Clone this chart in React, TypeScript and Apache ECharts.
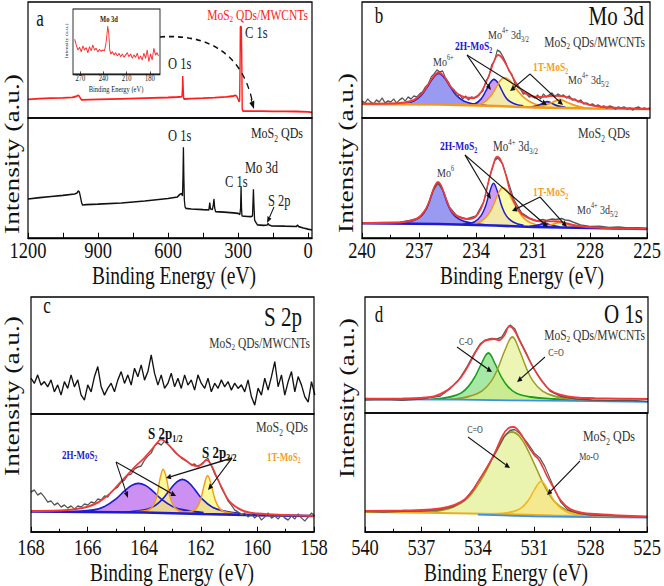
import React, { useEffect, useRef } from 'react';
import * as echarts from 'echarts';

const FONT = "'Liberation Serif', 'Times New Roman', serif";
const CW = 664;
const CH = 451;
const S = 586 / CH;
const Y = (py: number) => py / S;

// ---------------- data ----------------
const A_LABELS = [0, 300, 600, 900, 1200];
const A_TICKS = [0, 150, 300, 450, 600, 750, 900, 1050, 1200];
const INSET_LABELS = [180, 210, 240, 270];

const SURVEY_MWCNT = [[1200,18.7],[1150,19.3],[1100,19.8],[1050,20.2],[1010,20.6],[995,21.5],[985,22.7],[980,21.8],[975,19.5],[970,18.2],[900,18.6],[800,19.2],[700,19.8],[600,20.5],[560,21],[545,21.2],[540,21.5],[538,30],[537,42],[535,30],[533,20],[531,19],[500,19.4],[450,19.8],[400,20.4],[350,21.2],[320,22],[312,22.6],[306,22],[300,19],[296,16.3],[293,18],[291,60],[290,91.3],[286,91.3],[284,60],[282,9],[279,7],[250,6.8],[200,6.8],[150,6.7],[100,6.6],[50,6.5],[0,6.2],[-17,5.7]];
const SURVEY_QDS = [[1200,39],[1150,40.3],[1100,41.5],[1050,42.6],[1000,44],[990,45],[985,47],[980,46],[976,42],[970,35],[966,33],[950,33.3],[900,33.8],[800,35],[700,37],[600,39.5],[560,41],[550,43.5],[542,44.5],[538,42],[536,60],[534,90.7],[532,60],[530,38],[527,31],[523,29.7],[500,29],[450,28.3],[425,28],[421,35.3],[418,29],[410,28.5],[406,33],[403,39],[400,30],[396,26.3],[360,25.8],[320,25.2],[300,24.7],[292,23.5],[289,30],[287,51.3],[285,30],[283,22],[260,21.5],[245,21.3],[238,22],[236,35],[234,48.7],[232,35],[229,18],[222,15],[217,13.2],[190,12.7],[175,13],[171,14.5],[167,13],[157,12.2],[100,11.8],[50,11.5],[45,12.8],[40,11.4],[20,10],[0,8.9],[-17,8]];
const INSET_MO3D = [[277.3,34.7],[275.2,29],[273,24],[270.9,26.7],[268.8,22.3],[266.6,28],[264.5,24],[262.3,26.3],[260.2,21.3],[258.1,27.3],[255.9,23.3],[253.8,29],[251.6,24],[249.5,25.7],[247.3,22],[245.2,24.7],[243.1,22.7],[240.9,24],[238.8,23.3],[237.1,29],[235.8,37.3],[234.5,48],[233.2,40.7],[231.9,24],[230.6,20],[228.5,22.3],[226.4,19],[224.2,21.3],[222.1,18],[219.9,20.7],[217.8,17.3],[215.6,20],[213.5,16.7],[211.4,19],[209.2,21.3],[207.1,17.3],[204.9,20],[202.8,15.7],[200.7,19],[198.5,16.7],[196.4,20.7],[194.2,14.7],[192.1,18],[190,14],[187.8,20.7],[185.7,15.7],[183.5,24],[181.4,12.3],[179.2,20],[177.1,14],[175,25.7],[172.8,19],[170.7,21.3],[169,18]];

// panel b, top (MoS2 QDs/MWCNTs)
const B1_BASE = [[240,14],[236,13.5],[233,12],[231,10.5],[228,9.5],[225,9]];
const B1_MO6 = [[238.5,13.6],[237.8,14.5],[237.3,17],[236.9,23],[236.6,31],[236.3,40],[236.0,44.7],[235.7,40],[235.4,31],[235.1,23],[234.7,17],[234.2,14],[233.5,12.3]];
const B1_2H = [[234.6,12.5],[234.1,14.5],[233.8,19],[233.55,27],[233.35,34.5],[233.13,38.7],[232.9,34.5],[232.7,27],[232.45,19],[232.1,14.5],[231.6,12]];
const B1_1T = [[234.2,12.3],[233.7,15],[233.3,22],[233.0,31],[232.8,37.5],[232.6,40.3],[232.3,37.5],[232.0,30],[231.7,23],[231.4,18],[231.0,14],[230.5,11.5]];
const B1_2H_S = [[231.3,10.8],[230.9,12],[230.6,14.5],[230.35,16.3],[230.1,14.5],[229.8,12],[229.4,10.5]];
const B1_1T_S = [[231.0,10.5],[230.5,12.5],[230.1,15.5],[229.7,18.5],[229.3,15.5],[228.9,12.5],[228.4,10.2]];
const B1_FIT = [[240,14.3],[238.5,14.5],[237.8,15.5],[237.3,18],[236.9,24],[236.6,32],[236.3,41],[236.0,45.5],[235.7,41],[235.4,32],[235.0,24],[234.6,20.5],[234.2,20],[233.9,23],[233.6,33],[233.3,47],[233.1,58],[232.9,63],[232.7,60],[232.4,50],[232.0,36],[231.6,26],[231.2,22],[230.8,21],[230.4,21.5],[230.0,22.3],[229.6,22],[229.2,20],[228.6,16],[228.0,12.5],[227.3,10.7],[226,9.5],[225,9]];
const B1_RAW_START = 240;
const B1_RAW_STEP = 0.15;
const B1_RAW = [17,15,19,16,14,18,16,20,15,17,16,19,15,18,20,17,21,19,22,21,24,26,31,34,41,44,48,46,47,40,36,30,28,22,23,19,22,18,21,20,22,25,27,37,41,53,57,68,66,61,55,47,44,35,31,29,24,25,21,22,20,23,19,24,21,23,25,21,24,22,23,20,22,18,19,16,18,14,15,13,14,12,13,11,12,10,12,11,9,11,10,11,9,10,8,10,11,9,10,9,10];

// panel b, bottom (MoS2 QDs)
const B2_BASE = [[240,14.7],[236,14],[233,12.5],[231,11],[228,10],[225,9]];
const B2_MO6 = [[238.5,14.6],[237.6,16],[237.1,19],[236.75,25],[236.5,34],[236.3,45],[236.15,52],[236.0,55.3],[235.85,52],[235.7,45],[235.5,34],[235.25,25],[234.9,19],[234.4,15.5],[233.5,13]];
const B2_2H = [[234.7,13.5],[234.1,16],[233.75,22],[233.5,32],[233.3,45],[233.08,54.7],[232.85,45],[232.65,32],[232.4,22],[232.05,16],[231.5,12.5]];
const B2_1T = [[234.3,13.2],[233.7,17],[233.3,25],[233.0,37],[232.8,46],[232.6,50.3],[232.35,47],[232.1,38],[231.8,28],[231.5,20],[231.1,15],[230.5,12]];
const B2_2H_S = [[231.2,11.3],[230.8,12.5],[230.4,14.5],[230.0,12.5],[229.6,11]];
const B2_1T_S = [[230.6,11],[230.1,12.8],[229.6,15.5],[229.1,12.8],[228.6,10.5]];
const B2_FIT = [[240,15],[238.5,15.2],[237.6,16.5],[237.1,19.5],[236.75,26],[236.5,35],[236.3,46],[236.15,53],[236.0,56],[235.85,53],[235.7,46],[235.5,35],[235.25,26],[234.9,21],[234.5,19],[234.2,19.5],[233.9,24],[233.6,36],[233.35,56],[233.1,73],[232.9,81.3],[232.7,78],[232.45,64],[232.2,46],[231.9,32],[231.6,24],[231.3,20.5],[230.9,17.5],[230.4,16.5],[229.9,16.8],[229.6,16.5],[229.2,14.5],[228.6,12],[228.0,10.7],[226.5,9.5],[225,9.2]];
const B2_RAW = [[240,15],[239,15.6],[238,15.8],[237.5,17.5],[237,20],[236.6,29],[236.3,46],[236.0,55],[235.7,46],[235.4,31],[235,22],[234.5,19],[234,22],[233.6,36],[233.3,60],[233.0,78],[232.85,80],[232.6,74],[232.3,56],[232.0,38],[231.6,25],[231.2,20],[230.8,17],[230.5,18.5],[230.3,17.5],[230.0,19],[229.8,18.5],[229.5,19.5],[229.3,18],[229.1,17.5],[228.9,16],[228.5,13],[228,11.5],[227.5,11.8],[227,10.5],[226.5,11],[226,10],[225.5,10.3],[225,9.6]];

// panel c, top (MoS2 QDs/MWCNTs)
const C_RAW_START = 168;
const C_RAW_STEP = 0.118;
const C1_RAW = [35.7,30.7,39,29,32.3,27.3,34,22.3,29,19,32.3,25.7,39,27.3,34,19,14,29,22.3,37.3,47.3,27.3,19,25.7,30.7,22.3,34,42.3,30.7,39,29,45.7,37.3,49,34,42.3,59,40.7,29,39,25.7,30.7,40.7,27.3,35.7,25.7,39,29,34,24,39,30.7,25.7,35.7,22.3,30.7,25.7,34,27.3,32.3,24,30.7,25.7,29,22.3,34,17.3,9,25.7,19,35.7,24,37.3,52.3,27.3,39,19,32.3,42.3,22.3,37.3,29,17.3,12,32.3,19];

// panel c, bottom (MoS2 QDs)
const C2_BASE = [[168,20.5],[164,19.5],[162,18],[160,16.8],[158,16]];
const C2_2H_A = [[166.5,20.3],[165.8,22],[165.4,25.5],[165.0,33],[164.7,41],[164.45,46.5],[164.21,48.7],[163.95,46.5],[163.7,41],[163.4,33],[163.0,25.5],[162.6,22],[161.9,19.3]];
const C2_2H_B = [[164.7,19.8],[164.1,21.5],[163.7,25],[163.35,33],[163.1,42],[162.85,50],[162.65,52.7],[162.45,50],[162.2,42],[161.95,33],[161.6,25],[161.2,21],[160.6,18.5]];
const C2_1T_A = [[164.3,20],[163.9,21.5],[163.7,25.5],[163.55,36],[163.45,52],[163.33,62.7],[163.2,52],[163.1,36],[162.95,25.5],[162.75,21],[162.3,19.2]];
const C2_1T_B = [[162.8,18.9],[162.35,20.5],[162.15,24],[162.0,33],[161.88,47],[161.76,56.3],[161.63,47],[161.5,33],[161.35,24],[161.15,20],[160.7,17.8]];
const C2_FIT = [[168,21],[167,21.5],[166.5,22.5],[166.0,25.3],[165.6,30],[165.2,38.7],[164.9,48],[164.6,57],[164.3,66],[164.0,74],[163.75,82],[163.55,89],[163.4,92.7],[163.25,90],[163.0,83],[162.8,77],[162.55,72],[162.3,67],[162.1,66],[161.95,68],[161.8,72],[161.65,68],[161.45,56],[161.25,44],[161.0,31],[160.7,24],[160.4,20.3],[160,18.5],[159,17],[158,16]];
const C2_RAW = [40,42,37,39,35,30,31,27,29,25,27,24,26,23,26,25,28,27,30,29,33,32,36,35,40,43,45,50,52,57,58,63,65,66,72,76,79,86,89,87,91,88,84,80,77,74,72,70,67,68,65,68,71,74,66,58,52,44,38,31,27,22,20,17,19,15,18,14,17,12,15,19,14,16,13,17,14,12,16,13,18,14,11,15,19,16];

// panel d, top (MoS2 QDs/MWCNTs)
const D1_BASE = [[540,13.5],[535,13.3],[532,12.6],[529,12],[525,11.2]];
const D1_CO = [[536.5,13.6],[535.5,16],[534.9,20],[534.5,27],[534.15,37],[533.85,48.5],[533.46,60],[533.1,49],[532.8,37],[532.45,27],[532.0,20],[531.2,16],[530,14],[528,12.3]];
const D1_CDO = [[535.5,13.5],[534.5,16.5],[533.8,22],[533.3,32],[532.95,45],[532.6,62],[532.19,76],[531.8,62],[531.45,45],[531.1,32],[530.6,22],[529.9,16.5],[528.5,13],[527,11.8]];
const D1_FIT = [[540,14.3],[538,14.5],[536.5,16],[535.8,21],[535.3,28],[534.9,36],[534.5,48],[534.1,62],[533.75,71],[533.45,73.3],[533.15,74],[532.9,72.7],[532.6,78],[532.35,86.7],[532.1,83],[531.8,72],[531.4,57],[531.1,46],[530.7,34],[530.2,23],[529.6,18],[528.8,15.5],[527.8,14.8],[526.5,14.3],[525,14]];
const D1_RAW = [[540,13],[539,13.5],[538,12.8],[537,14],[536,17],[535.5,24],[535,34],[534.6,46],[534.2,60],[533.9,69],[533.6,73],[533.3,74.5],[533.0,74],[532.75,76],[532.5,84],[532.3,88],[532.05,84],[531.8,73],[531.4,58],[531.1,46],[530.7,34],[530.2,22],[529.6,16.5],[528.8,14],[528,13],[527,12.5],[526,12.8],[525,11.5]];

// panel d, bottom (MoS2 QDs)
const D2_BASE = [[540,20],[536,19],[533,18],[530,16.5],[527,15.5],[525,15]];
const D2_BLUE = [[534,17.3],[531,15.6],[528,14.8],[525,14.3]];
const D2_CDO = [[537.5,19.5],[536.2,21],[535.3,25],[534.6,33],[534.0,47],[533.5,63],[533.0,83],[532.6,96],[532.19,100],[531.8,96],[531.4,84],[530.9,64],[530.4,44],[529.9,30],[529.3,22],[528.5,18],[527,16]];
const D2_MOO = [[533.2,18],[532.2,20],[531.7,24],[531.3,32],[531.0,42],[530.63,50.7],[530.3,43],[530.0,33],[529.6,24],[529.1,19],[528.2,16.5]];
const D2_FIT = [[540,21],[538,21.5],[536.5,22.5],[535.6,25],[534.9,30],[534.4,38.3],[534.0,50],[533.6,62],[533.1,79],[532.7,96],[532.4,103.5],[532.1,105],[531.75,99],[531.4,88],[531.0,77],[530.8,73.3],[530.55,65],[530.3,55],[530.0,45],[529.6,31.7],[529.1,23],[528.4,19],[527.8,18],[526.5,16.5],[525,15.5]];
const D2_RAW = [[540,20.5],[539,20],[538,20.8],[537,21],[536,22.5],[535.3,25.5],[534.7,32],[534.2,44],[533.8,56],[533.4,68],[533.0,81],[532.6,95],[532.3,101.5],[532.05,102.5],[531.8,99],[531.4,90],[531.0,79],[530.7,74],[530.45,66],[530.2,55],[529.9,42],[529.6,30],[529.2,22],[528.6,18.5],[528,17],[527,16.5],[526,15.5],[525,15]];

// ---------------- layout (final-pixel frame boxes) ----------------
const GRIDS: number[][] = [
  [28, 284, 2, 118],
  [28, 284, 118, 238],
  [362, 288, 2, 118],
  [362, 288, 118, 238],
  [31, 283, 297, 414],
  [31, 283, 414, 532],
  [365, 283, 297, 413],
  [365, 283, 413, 532],
  [73, 87, 9, 74],
];

function T(x: number, py: number, size: number, content: string, o: any = {}) {
  const fill = o.fill || '#222';
  const fw = o.bold ? 'bold' : 'normal';
  const LH = Math.round(size * 1.25);
  const base = { fontFamily: FONT, fontWeight: fw, fill, color: fill };
  const small = size * 0.62;
  return {
    type: 'text', x, y: Y(py), z: 50, silent: true,
    rotation: o.rot ? Math.PI / 2 : 0,
    style: {
      text: content, fontFamily: FONT, fontSize: size, fontWeight: fw, fill,
      lineHeight: LH,
      align: o.align || 'left', textAlign: o.align || 'left',
      verticalAlign: 'middle', textVerticalAlign: 'middle',
      rich: {
        n: { ...base, fontSize: size, lineHeight: LH, verticalAlign: 'middle' },
        b: { ...base, fontSize: small, lineHeight: small, verticalAlign: 'bottom' },
        t: { ...base, fontSize: small, lineHeight: small, verticalAlign: 'top' },
      },
    },
  };
}

function arrow(x1: number, y1: number, x2: number, y2: number, color = '#111', head = 5) {
  const ax = x1, ay = Y(y1), bx2 = x2, by2 = Y(y2);
  const dx = bx2 - ax, dy = by2 - ay;
  const len = Math.hypot(dx, dy);
  const ux = dx / len, uy = dy / len;
  const bx = bx2 - ux * head, by = by2 - uy * head;
  const px = -uy * head * 0.45, py = ux * head * 0.45;
  return [
    { type: 'line', z: 40, silent: true, shape: { x1: ax, y1: ay, x2: bx, y2: by }, style: { stroke: color, lineWidth: 1 } },
    { type: 'polygon', z: 40, silent: true, shape: { points: [[bx2, by2], [bx + px, by + py], [bx - px, by - py]] }, style: { fill: color } },
  ];
}

const plain = (v: number) => String(v);

function buildOption() {
  const grid = GRIDS.map((g, i) => ({
    left: g[0], width: g[1], top: Y(g[2]), height: Y(g[3]) - Y(g[2]),
    show: true, borderColor: '#000', borderWidth: i === 8 ? 0.8 : 1.2,
    backgroundColor: i === 8 ? '#fff' : 'transparent', z: i === 8 ? 6 : 10,
  }));
  const yAxis = GRIDS.map((g, i) => ({ type: 'value', gridIndex: i, min: 0, max: g[3] - g[2], show: false }));
  const hidden = (i: number, min: number, max: number) => ({ type: 'value', gridIndex: i, min, max, inverse: true, show: false });
  const shown = (i: number, min: number, max: number, interval: number, margin: number) => ({
    type: 'value', gridIndex: i, min, max, inverse: true, interval, z: 11,
    axisLine: { show: true, onZero: false, lineStyle: { color: '#000', width: 1.2 } },
    axisTick: { show: true, inside: true, length: 4, lineStyle: { color: '#000', width: 1 } },
    minorTick: { show: true, inside: true, splitNumber: 2, length: 2.5, lineStyle: { color: '#000', width: 1 } },
    axisLabel: { show: true, margin, fontSize: 18.5, fontFamily: FONT, color: '#111', showMinLabel: true, showMaxLabel: true, formatter: plain },
    splitLine: { show: false }, minorSplitLine: { show: false },
  });
  const xAxis = [
    hidden(0, -17, 1200),
    {
      type: 'value', gridIndex: 1, min: -17, max: 1200, inverse: true, z: 11,
      axisLine: { show: true, onZero: false, lineStyle: { color: '#000', width: 1.2 } },
      axisTick: { show: true, inside: true, length: 4, customValues: A_TICKS, lineStyle: { color: '#000', width: 1 } },
      axisLabel: { show: true, margin: 0, fontSize: 18.5, fontFamily: FONT, color: '#111', customValues: A_LABELS, formatter: plain },
      splitLine: { show: false },
    },
    hidden(2, 225, 240),
    shown(3, 225, 240, 3, 0),
    hidden(4, 158, 168),
    shown(5, 158, 168, 2, 2),
    hidden(6, 525, 540),
    shown(7, 525, 540, 3, 2),
    {
      type: 'value', gridIndex: 8, min: 167, max: 279.4, inverse: true, z: 8,
      axisLine: { show: true, onZero: false, lineStyle: { color: '#000', width: 0.8 } },
      axisTick: { show: true, inside: true, length: 2, customValues: INSET_LABELS, lineStyle: { color: '#000', width: 0.6 } },
      axisLabel: { show: true, margin: 0, fontSize: 6.5, fontFamily: FONT, color: '#111', customValues: INSET_LABELS, formatter: plain },
      splitLine: { show: false },
    },
  ];

  const L = (ax: number, data: any, color: string, width: number, extra: any = {}) => ({
    type: 'line', xAxisIndex: ax, yAxisIndex: ax, data, symbol: 'none', showSymbol: false, silent: true,
    lineStyle: { color, width }, z: 4, ...extra,
  });
  const P = (ax: number, data: any, stroke: string, fill: string) =>
    L(ax, data, stroke, 1.4, { smooth: 0.4, areaStyle: { color: fill, opacity: 1 }, z: 2 });
  const CV = (ax: number, data: any, color: string, width: number) =>
    L(ax, data, color, width, { areaStyle: { color: '#ffffff', opacity: 1 }, z: 3 });
  const FIT = (ax: number, data: any) => L(ax, data, '#f03a3a', 1.5, { smooth: 0.4, z: 5 });
  const RAW = (ax: number, data: any) => L(ax, data, '#555555', 1.1, { z: 4 });

  const b1raw = B1_RAW.map((v, i) => [B1_RAW_START - B1_RAW_STEP * i, v]);
  const c1raw = C1_RAW.map((v, i) => [C_RAW_START - C_RAW_STEP * i, v]);
  const c2raw = C2_RAW.map((v, i) => [C_RAW_START - C_RAW_STEP * i, v]);

  const BLUE = '#1c1cd0';
  const ORANGE = '#f39a1c';
  const series = [
    L(0, SURVEY_MWCNT, '#ff1e1e', 1.4),
    L(1, SURVEY_QDS, '#111111', 1.3),
    L(8, INSET_MO3D, '#ff2a2a', 0.9, { z: 7 }),
    P(2, B1_MO6, BLUE, 'rgba(120,120,235,0.75)'),
    P(2, B1_2H, BLUE, 'rgba(190,125,240,0.75)'),
    P(2, B1_1T, ORANGE, 'rgba(250,250,150,0.8)'),
    P(2, B1_2H_S, BLUE, 'rgba(190,125,240,0.6)'),
    P(2, B1_1T_S, ORANGE, 'rgba(250,250,150,0.8)'),
    CV(2, B1_BASE, ORANGE, 2),
    RAW(2, b1raw),
    FIT(2, B1_FIT),
    P(3, B2_MO6, BLUE, 'rgba(120,120,235,0.75)'),
    P(3, B2_2H, BLUE, 'rgba(190,125,240,0.75)'),
    P(3, B2_1T, ORANGE, 'rgba(250,250,150,0.8)'),
    P(3, B2_2H_S, BLUE, 'rgba(190,125,240,0.6)'),
    P(3, B2_1T_S, ORANGE, 'rgba(250,250,150,0.8)'),
    CV(3, B2_BASE, BLUE, 2),
    RAW(3, B2_RAW),
    FIT(3, B2_FIT),
    L(4, c1raw, '#111111', 1.3),
    P(5, C2_2H_A, BLUE, 'rgba(170,70,235,0.6)'),
    P(5, C2_2H_B, BLUE, 'rgba(170,70,235,0.6)'),
    P(5, C2_1T_A, ORANGE, 'rgba(250,250,120,0.75)'),
    P(5, C2_1T_B, ORANGE, 'rgba(250,250,120,0.75)'),
    CV(5, C2_BASE, BLUE, 2),
    RAW(5, c2raw),
    FIT(5, C2_FIT),
    P(6, D1_CO, '#1a9e1a', 'rgba(120,220,120,0.65)'),
    P(6, D1_CDO, '#9c9c22', 'rgba(225,238,130,0.6)'),
    CV(6, D1_BASE, '#3a8fe6', 1.3),
    RAW(6, D1_RAW),
    FIT(6, D1_FIT),
    P(7, D2_CDO, '#9c9c22', 'rgba(225,238,130,0.65)'),
    P(7, D2_MOO, '#f2b820', 'rgba(250,225,120,0.6)'),
    CV(7, D2_BASE, '#e8b020', 1.6),
    L(7, D2_BLUE, '#3a8fe6', 1.3),
    RAW(7, D2_RAW),
    FIT(7, D2_FIT),
  ];

  const RED = '#ff2020';
  const B2C = '#1a1ad0';
  const O2C = '#f5a020';
  const YT = { align: 'center', rot: true, fill: '#111' };
  const XT = { align: 'center', fill: '#111' };
  const graphic: any[] = [
    T(40, 18, 17, 'a', { align: 'center', fill: '#111' }),
    T(308, 15, 11.5, 'MoS{b|2} QDs/MWCNTs', { align: 'right', fill: RED }),
    T(245, 32, 12.5, 'C 1s'),
    T(168, 63, 12.5, 'O 1s'),
    T(109, 19, 6.5, 'Mo 3d', { align: 'center', bold: true }),
    T(116, 89, 6.5, 'Binding Energy (eV)', { align: 'center' }),
    T(66, 41, 4.6, 'Intensity (a.u.)', { align: 'center', rot: true }),
    T(168, 135, 12.5, 'O 1s'),
    T(303, 133, 12, 'MoS{b|2} QDs', { align: 'right' }),
    T(245, 167, 12.5, 'Mo 3d'),
    T(225, 181, 12.5, 'C 1s'),
    T(268, 200, 12.5, 'S 2p'),
    ...arrow(274, 207, 267, 223),
    {
      type: 'bezierCurve', z: 40, silent: true,
      shape: { x1: 160, y1: Y(37), cpx1: 215, cpy1: Y(33), cpx2: 243, cpy2: Y(60), x2: 252, y2: Y(100) },
      style: { stroke: '#111', lineWidth: 1.3, lineDash: [5, 4], fill: null },
    },
    ...arrow(251, 99, 254, 109, '#111', 6),
    T(12, 154, 21, 'Intensity (a.u.)', YT),
    T(346, 153, 21, 'Intensity (a.u.)', YT),
    T(12, 396, 21, 'Intensity (a.u.)', YT),
    T(347, 398, 21, 'Intensity (a.u.)', YT),
    T(174, 276, 19.5, 'Binding Energy (eV)', XT),
    T(522, 276, 19.5, 'Binding Energy (eV)', XT),
    T(172, 573, 19.5, 'Binding Energy (eV)', XT),
    T(506, 573, 19.5, 'Binding Energy (eV)', XT),
    T(379, 15, 17, 'b', { align: 'center', fill: '#111' }),
    T(644, 15, 21, 'Mo 3d', { align: 'right', fill: '#111' }),
    T(645, 42, 11.5, 'MoS{b|2} QDs/MWCNTs', { align: 'right', fill: '#333' }),
    T(488, 35, 10, 'Mo{t|4+} 3d{b|3/2}', { fill: '#333' }),
    T(433, 62, 10, 'Mo{t|6+}', { fill: '#333' }),
    T(455, 46, 9.5, '2H-MoS{b|2}', { fill: B2C, bold: true }),
    T(533, 67, 9.5, '1T-MoS{b|2}', { fill: O2C, bold: true }),
    T(568, 80, 10, 'Mo{t|4+} 3d{b|5/2}', { fill: '#333' }),
    ...arrow(467, 55, 491, 90),
    ...arrow(467, 55, 547, 105),
    ...arrow(530, 74, 510, 91),
    ...arrow(530, 74, 563, 105),
    T(630, 133, 12, 'MoS{b|2} QDs', { align: 'right', fill: '#333' }),
    T(493, 147, 11, 'Mo{t|4+} 3d{b|3/2}', { fill: '#333' }),
    T(440, 146, 9.5, '2H-MoS{b|2}', { fill: B2C, bold: true }),
    T(437, 173, 10, 'Mo{t|6}', { fill: '#333' }),
    T(533, 192, 9.5, '1T-MoS{b|2}', { fill: O2C, bold: true }),
    T(577, 210, 10, 'Mo{t|4+} 3d{b|5/2}', { fill: '#333' }),
    ...arrow(465, 155, 491, 199),
    ...arrow(465, 155, 548, 227),
    ...arrow(540, 197, 512, 211),
    ...arrow(540, 197, 567, 227),
    T(47, 305, 17, 'c', { align: 'center', fill: '#111' }),
    T(302, 316, 21, 'S 2p', { align: 'right', fill: '#111' }),
    T(310, 343, 11.5, 'MoS{b|2} QDs/MWCNTs', { align: 'right', fill: '#333' }),
    T(308, 427, 12, 'MoS{b|2} QDs', { align: 'right', fill: '#333' }),
    T(148, 433, 13, 'S 2p{b|1/2}', { bold: true, fill: '#111' }),
    T(202, 452, 13, 'S 2p{b|3/2}', { bold: true, fill: '#111' }),
    T(62, 455, 9, '2H-MoS{b|2}', { fill: B2C, bold: true }),
    T(267, 457, 9, '1T-MoS{b|2}', { fill: O2C, bold: true }),
    ...arrow(116, 462, 128, 498),
    ...arrow(116, 462, 176, 496),
    ...arrow(232, 458, 166, 478),
    ...arrow(232, 458, 208, 490),
    T(379, 314, 17, 'd', { align: 'center', fill: '#111' }),
    T(643, 313, 21, 'O 1s', { align: 'right', fill: '#111' }),
    T(645, 335, 11.5, 'MoS{b|2} QDs/MWCNTs', { align: 'right', fill: '#333' }),
    T(466, 342, 8, 'C-O', { align: 'center', fill: '#333' }),
    T(556, 353, 8, 'C=O', { align: 'center', fill: '#333' }),
    ...arrow(457, 347, 492, 372),
    ...arrow(545, 357, 517, 382),
    T(635, 436, 12, 'MoS{b|2} QDs', { align: 'right', fill: '#333' }),
    T(475, 430, 8, 'C=O', { align: 'center', fill: '#333' }),
    T(589, 457, 8, 'Mo-O', { align: 'center', fill: '#333' }),
    ...arrow(468, 437, 510, 468),
    ...arrow(580, 461, 547, 495),
  ];

  return { animation: false, backgroundColor: '#ffffff', grid, xAxis, yAxis, series, graphic };
}

export default function App() {
  const ref = useRef<HTMLDivElement>(null);
  useEffect(() => {
    document.body.style.margin = '0';
    const chart = echarts.init(ref.current as HTMLDivElement, null, { renderer: 'svg', width: CW, height: CH });
    chart.setOption(buildOption() as any);
    return () => chart.dispose();
  }, []);
  return (
    <div
      ref={ref}
      style={{
        position: 'fixed', left: 0, top: 0, width: CW, height: CH,
        transform: `scaleY(${S})`, transformOrigin: '0 0', background: '#fff',
      }}
    />
  );
}
